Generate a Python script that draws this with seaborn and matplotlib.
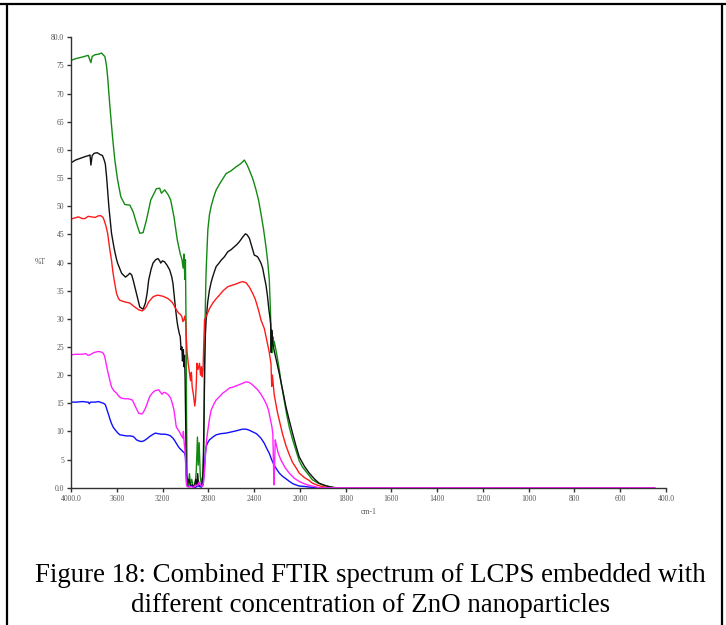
import numpy as np
import pandas as pd
import matplotlib
matplotlib.use("Agg")
import matplotlib.pyplot as plt
from matplotlib.lines import Line2D
import seaborn as sns

# ---------------- data (wavenumber cm-1, %T) ----------------
green_wn = [4000, 3960, 3900, 3850, 3826, 3815, 3790, 3760, 3733, 3715, 3704, 3690, 3680, 3660, 3637, 3617,
            3593, 3565, 3530, 3486, 3457, 3428, 3399, 3370, 3341, 3303, 3254, 3225, 3210, 3181, 3150, 3129,
            3100, 3071, 3045, 3030, 3020, 3013, 3005, 3000, 2995, 2990, 2985, 2975, 2965, 2955, 2945, 2930,
            2915, 2905, 2895, 2888, 2880, 2870, 2860, 2850, 2840, 2835, 2828, 2820, 2810, 2804, 2790, 2775,
            2750, 2731, 2700, 2644, 2600, 2557, 2520, 2485, 2460, 2441, 2410, 2383, 2360, 2340, 2318, 2296,
            2280, 2267, 2258, 2252, 2248, 2244, 2240, 2236, 2230, 2224, 2200, 2180, 2160, 2137, 2115, 2093,
            2064, 2035, 2006, 1989, 1960, 1945, 1920, 1886, 1860, 1842, 1800, 1600, 1200, 800, 450]
green_t = [75.9, 76.2, 76.5, 76.8, 75.5, 76.6, 76.9, 77.0, 77.2, 76.8, 76.6, 75.0, 73.0, 67.7, 62.3, 58.2,
           54.7, 51.7, 50.3, 50.2, 49.0, 47.0, 45.2, 45.3, 47.5, 51.1, 53.1, 53.2, 52.3, 52.9, 52.0, 51.1,
           48.1, 44.0, 41.5, 40.5, 39.0, 41.5, 37.0, 40.5, 30.0, 12.0, 2.0, 0.3, 2.5, 0.5, 1.5, 0.0,
           0.5, 3.0, 9.0, 4.0, 8.0, 2.0, 0.5, 2.0, 6.0, 15.0, 30.0, 38.0, 43.0, 45.8, 48.5, 50.0,
           51.8, 52.9, 54.0, 55.8, 56.3, 57.0, 57.5, 58.2, 57.3, 56.4, 54.8, 52.9, 51.0, 48.7, 46.0, 42.8,
           40.0, 36.9, 32.0, 28.0, 25.0, 27.5, 24.0, 26.8, 25.0, 26.0, 23.5, 21.0, 18.2, 15.6, 13.0, 10.8,
           8.6, 6.7, 4.8, 3.7, 2.2, 1.4, 0.8, 0.3, 0.1, 0.0, 0.0, 0.0, 0.0, 0.0, 0.0]

black_wn = [4000, 3960, 3920, 3878, 3845, 3834, 3826, 3815, 3797, 3770, 3748, 3725, 3710, 3700, 3689, 3669,
            3646, 3623, 3605, 3593, 3558, 3524, 3500, 3486, 3470, 3457, 3428, 3399, 3370, 3350, 3335, 3321,
            3300, 3283, 3260, 3240, 3225, 3216, 3200, 3181, 3160, 3138, 3120, 3109, 3098, 3088, 3075, 3066,
            3055, 3045, 3038, 3031, 3026, 3022, 3018, 3013, 3008, 3003, 2998, 2993, 2985, 2970, 2955, 2940,
            2925, 2910, 2900, 2893, 2885, 2870, 2855, 2845, 2838, 2832, 2826, 2819, 2805, 2790, 2775, 2761,
            2745, 2731, 2710, 2688, 2660, 2630, 2600, 2572, 2550, 2528, 2500, 2476, 2460, 2441, 2420, 2398,
            2385, 2369, 2355, 2340, 2325, 2311, 2296, 2282, 2270, 2262, 2255, 2250, 2246, 2240, 2238, 2210,
            2180, 2150, 2122, 2093, 2064, 2035, 2006, 1980, 1959, 1935, 1916, 1890, 1872, 1850, 1800, 1600,
            1200, 800, 450]
black_t = [57.7, 58.2, 58.5, 58.8, 59.0, 59.1, 57.3, 59.0, 59.4, 59.5, 59.2, 59.0, 58.2, 57.5, 55.2, 49.9,
           45.2, 42.5, 40.8, 39.9, 38.1, 37.4, 37.8, 38.1, 37.8, 36.9, 34.5, 32.1, 31.7, 32.8, 34.5, 36.9,
           38.8, 39.9, 40.5, 40.7, 40.3, 39.9, 40.3, 40.1, 39.5, 38.7, 37.5, 36.3, 34.0, 32.1, 29.8, 28.6,
           27.5, 26.8, 24.5, 25.0, 22.5, 23.3, 24.5, 21.5, 23.5, 19.5, 12.0, 3.0, 0.5, 1.5, 0.3, 0.5,
           0.0, 1.5, 0.2, 2.5, 0.5, 0.3, 0.5, 3.0, 12.0, 22.0, 27.0, 29.8, 33.0, 35.1, 36.5, 37.5,
           38.5, 39.3, 39.8, 40.4, 41.0, 41.9, 42.3, 42.8, 43.2, 43.7, 44.5, 45.1, 44.9, 44.3, 42.8, 41.3,
           41.2, 41.0, 40.5, 39.9, 39.0, 37.5, 36.0, 33.9, 31.5, 30.4, 29.0, 24.0, 28.0, 26.5, 25.6, 23.0,
           20.3, 17.3, 14.4, 12.0, 9.7, 7.5, 5.5, 3.8, 2.6, 1.5, 0.8, 0.4, 0.2, 0.0, 0.0, 0.0,
           0.0, 0.0, 0.0]

red_wn = [4000, 3970, 3936, 3900, 3878, 3850, 3820, 3790, 3760, 3739, 3720, 3710, 3695, 3680, 3660, 3646,
          3635, 3623, 3602, 3585, 3573, 3530, 3486, 3443, 3408, 3379, 3365, 3350, 3335, 3321, 3300, 3283,
          3260, 3240, 3196, 3153, 3118, 3100, 3088, 3059, 3045, 3031, 3022, 3013, 3005, 2998, 2993, 2985,
          2975, 2964, 2955, 2948, 2941, 2930, 2918, 2912, 2905, 2900, 2890, 2877, 2868, 2860, 2853, 2846,
          2842, 2838, 2833, 2819, 2790, 2761, 2730, 2703, 2670, 2630, 2600, 2557, 2520, 2499, 2470, 2440,
          2412, 2390, 2369, 2354, 2340, 2325, 2311, 2282, 2267, 2252, 2246, 2240, 2224, 2195, 2152, 2122,
          2093, 2064, 2035, 2006, 1980, 1960, 1945, 1920, 1901, 1880, 1800, 1600, 1200, 800, 450]
red_t = [47.7, 47.9, 48.1, 47.8, 47.8, 48.2, 48.1, 48.0, 48.3, 48.3, 48.0, 47.5, 46.5, 45.2, 42.2, 40.4,
         38.5, 36.9, 34.5, 33.6, 33.3, 33.0, 32.8, 32.1, 31.6, 31.4, 31.6, 31.9, 32.4, 33.0, 33.5, 33.9,
         34.1, 34.2, 34.0, 33.6, 33.0, 32.4, 31.9, 31.0, 30.8, 30.4, 29.5, 29.8, 30.5, 29.5, 26.8, 24.0,
         22.0, 20.3, 19.0, 20.5, 17.9, 16.5, 14.5, 15.6, 18.5, 22.1, 21.0, 22.1, 20.0, 21.5, 19.7, 21.0,
         23.9, 26.5, 29.8, 30.4, 31.8, 32.8, 33.6, 34.2, 35.0, 35.7, 35.9, 36.2, 36.5, 36.6, 36.4, 35.6,
         34.5, 33.5, 32.1, 31.0, 29.8, 29.0, 28.3, 25.5, 24.0, 22.0, 18.0, 20.0, 16.5, 13.3, 9.6, 7.5,
         5.9, 4.5, 3.6, 2.6, 1.8, 1.3, 0.8, 0.4, 0.2, 0.0, 0.0, 0.0, 0.0, 0.0, 0.0]

magenta_wn = [4000, 3960, 3907, 3870, 3850, 3834, 3800, 3762, 3735, 3719, 3709, 3699, 3688, 3675, 3660, 3646,
              3625, 3602, 3580, 3558, 3530, 3501, 3466, 3450, 3437, 3420, 3408, 3379, 3365, 3350, 3330, 3312,
              3290, 3268, 3234, 3220, 3205, 3190, 3176, 3150, 3129, 3115, 3100, 3088, 3080, 3065, 3051, 3040,
              3031, 3022, 3018, 3013, 3006, 3000, 2995, 2990, 2970, 2950, 2930, 2910, 2895, 2880, 2868, 2855,
              2845, 2835, 2824, 2815, 2804, 2790, 2775, 2750, 2731, 2700, 2674, 2645, 2616, 2580, 2543, 2505,
              2470, 2445, 2427, 2400, 2369, 2340, 2311, 2290, 2274, 2258, 2244, 2236, 2230, 2226, 2222, 2215,
              2209, 2190, 2165, 2130, 2093, 2050, 2006, 1980, 1959, 1935, 1916, 1800, 1600, 1200, 800, 450]
magenta_t = [23.6, 23.7, 23.7, 23.8, 23.5, 23.6, 24.0, 24.2, 24.1, 23.9, 23.5, 22.7, 21.5, 20.3, 19.0, 17.9,
             17.2, 16.8, 16.2, 15.9, 15.8, 15.8, 15.6, 15.0, 14.4, 13.7, 13.2, 13.1, 13.5, 14.1, 15.2, 16.2,
             16.8, 17.2, 17.4, 17.0, 16.6, 16.9, 16.9, 16.5, 15.9, 15.0, 13.8, 12.0, 10.8, 10.3, 9.9, 9.4,
             9.1, 8.8, 10.0, 8.5, 7.0, 5.5, 2.0, 0.3, 0.1, 0.2, 0.0, 0.5, 0.3, 1.0, 0.5, 0.2,
             0.5, 2.5, 6.1, 8.5, 10.2, 12.2, 13.8, 14.9, 15.6, 16.2, 16.8, 17.2, 17.7, 17.9, 18.2, 18.5,
             18.8, 18.7, 18.5, 18.0, 17.4, 16.6, 15.6, 14.7, 13.8, 12.2, 10.8, 9.5, 4.0, 0.5, 3.0, 8.5,
             7.9, 6.2, 4.9, 3.6, 2.6, 1.7, 1.1, 0.7, 0.4, 0.2, 0.0, 0.0, 0.0, 0.0, 0.0, 0.0]

blue_wn = [4000, 3950, 3900, 3860, 3849, 3840, 3830, 3790, 3760, 3733, 3715, 3699, 3688, 3675, 3660, 3646,
           3630, 3611, 3590, 3573, 3545, 3515, 3485, 3457, 3440, 3428, 3405, 3385, 3365, 3350, 3330, 3312,
           3290, 3263, 3240, 3210, 3180, 3153, 3130, 3109, 3095, 3080, 3065, 3051, 3035, 3022, 3013, 3007,
           3000, 2995, 2990, 2980, 2950, 2920, 2890, 2860, 2845, 2835, 2828, 2819, 2805, 2790, 2760, 2731,
           2690, 2644, 2600, 2557, 2520, 2499, 2470, 2441, 2410, 2380, 2369, 2340, 2311, 2290, 2267, 2245,
           2224, 2200, 2180, 2150, 2122, 2090, 2060, 2035, 2006, 1974, 1940, 1800, 1600, 1200, 800, 450]
blue_t = [15.2, 15.2, 15.3, 15.2, 15.2, 14.9, 15.2, 15.2, 15.3, 15.1, 15.0, 14.7, 14.0, 13.2, 12.2, 11.4,
          10.7, 10.2, 9.7, 9.4, 9.3, 9.2, 9.2, 9.1, 8.8, 8.5, 8.3, 8.2, 8.3, 8.5, 8.8, 9.1,
          9.4, 9.7, 9.6, 9.5, 9.5, 9.4, 9.2, 8.8, 8.4, 7.9, 7.4, 7.0, 6.7, 6.4, 6.3, 6.1,
          5.5, 3.5, 1.0, 0.2, 0.3, 0.0, 0.3, 0.1, 0.5, 3.0, 5.5, 7.3, 8.0, 8.5, 9.0, 9.4,
          9.6, 9.7, 9.9, 10.1, 10.3, 10.4, 10.4, 10.2, 9.9, 9.6, 9.4, 8.8, 7.9, 7.0, 6.1, 4.9,
          4.0, 3.2, 2.6, 2.0, 1.6, 1.1, 0.7, 0.5, 0.3, 0.2, 0.0, 0.0, 0.0, 0.0, 0.0, 0.0]

x_ticks = [4000, 3600, 3200, 2800, 2400, 2000, 1800, 1600, 1400, 1200, 1000, 800, 600, 400]
x_tick_labels = ["4000.0", "3600", "3200", "2800", "2400", "2000", "1800", "1600",
                 "1400", "1200", "1000", "800", "600", "400.0"]
y_ticks = [0, 5, 10, 15, 20, 25, 30, 35, 40, 45, 50, 55, 60, 65, 70, 75, 80]
y_tick_labels = ["0.0", "5", "10", "15", "20", "25", "30", "35", "40", "45", "50",
                 "55", "60", "65", "70", "75", "80.0"]
caption_lines = ["Figure 18: Combined FTIR spectrum of LCPS embedded with",
                 "different concentration of ZnO nanoparticles"]

# ---------------- plotting ----------------
sns.set_theme(style="white")
plt.rcParams['font.family'] = ['Liberation Serif', 'DejaVu Serif']

fig = plt.figure(figsize=(7.26, 6.25), dpi=100)
ax = fig.add_axes([71 / 726, 1 - 487.7 / 625, (666 - 71) / 726, (487.7 - 37.3) / 625])


def fwd(x):
    x = np.asarray(x, dtype=float)
    return np.where(x >= 2000, (x - 2000) / 2.0, x - 2000)


def inv(u):
    u = np.asarray(u, dtype=float)
    return np.where(u >= 0, 2000 + 2.0 * u, 2000 + u)


ax.set_xscale('function', functions=(fwd, inv))

series = [
    (green_wn, green_t, '#128a12'),
    (black_wn, black_t, '#111111'),
    (red_wn, red_t, '#ff1a1a'),
    (blue_wn, blue_t, '#1010ff'),
    (magenta_wn, magenta_t, '#ff22ff'),
]
for wn, t, col in series:
    df = pd.DataFrame({'wn': wn, 'T': t})
    sns.lineplot(data=df, x='wn', y='T', ax=ax, color=col, linewidth=1.0,
                 sort=False, estimator=None)

ax.set_xlim(4000, 400)
ax.set_ylim(0, 80)
ax.set_xticks(x_ticks)
ax.set_xticklabels(x_tick_labels)
ax.set_yticks(y_ticks)
ax.set_yticklabels(y_tick_labels)
ax.tick_params(axis='both', which='both', direction='out', length=3, width=1,
               color='#333333', labelsize=5.5, labelcolor='#555555', pad=2,
               left=True, bottom=True)
ax.minorticks_off()
for s in ['top', 'right']:
    ax.spines[s].set_visible(False)
for s in ['left', 'bottom']:
    ax.spines[s].set_color('#333333')
    ax.spines[s].set_linewidth(1.0)

ax.set_xlabel('cm-1', fontsize=5.5, color='#555555', labelpad=4)
ax.set_ylabel('%T', fontsize=5.5, color='#555555', rotation=0, labelpad=8, va='center')
ax.grid(False)
ax.set_facecolor('white')

# caption
fig.text(370.5 / 726, 1 - 576 / 625, caption_lines[0], ha='center', va='center',
         fontsize=19.4, color='black')
fig.text(370.5 / 726, 1 - 606 / 625, caption_lines[1], ha='center', va='center',
         fontsize=19.4, color='black')

# table-cell border
lw = 1.6
fig.add_artist(Line2D([0, 1], [1 - 3.5 / 625, 1 - 3.5 / 625], transform=fig.transFigure,
                      color='black', linewidth=lw))
fig.add_artist(Line2D([6.7 / 726, 6.7 / 726], [0, 1 - 3.5 / 625], transform=fig.transFigure,
                      color='black', linewidth=lw))
fig.add_artist(Line2D([721.7 / 726, 721.7 / 726], [0, 1 - 3.5 / 625], transform=fig.transFigure,
                      color='black', linewidth=lw))

fig.savefig('out.png', dpi=100, facecolor='white')
